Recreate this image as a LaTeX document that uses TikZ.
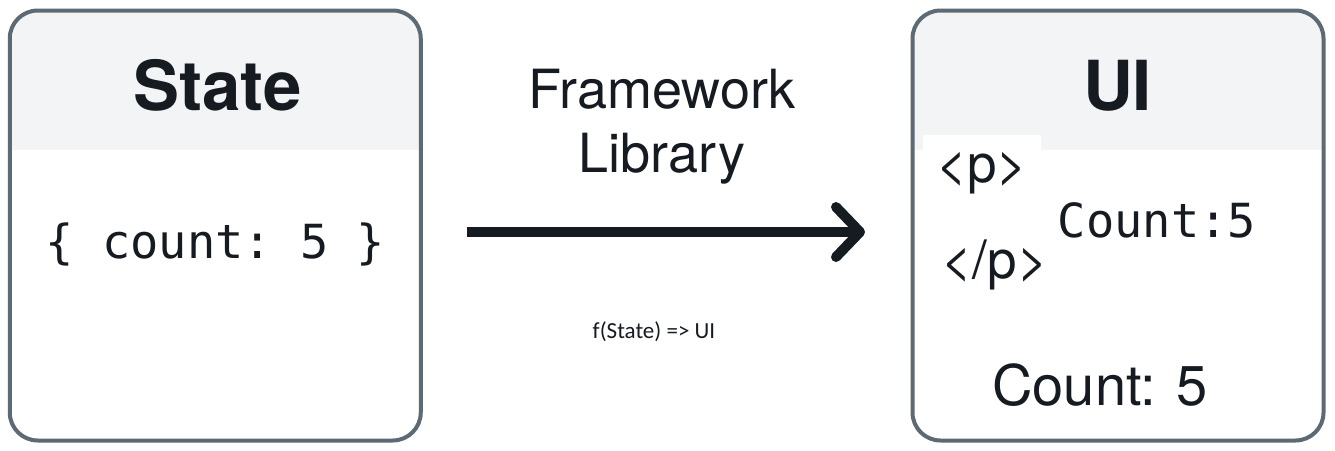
\documentclass[tikz,border=0pt]{standalone}
\usepackage{fontspec}
\setmainfont{TeX Gyre Heros}
\setmonofont{DejaVu Sans Mono}
\newfontfamily\notefont{Carlito}
\usetikzlibrary{arrows.meta}
\definecolor{ink}{HTML}{161B22}
\definecolor{rim}{HTML}{5E6A73}
\definecolor{headfill}{HTML}{F3F4F6}

\begin{document}
\begin{tikzpicture}[%
    x=1pt,y=-1pt,
    panel/.style={draw=rim,line width=4pt,rounded corners=28pt,
      minimum width=411pt,minimum height=430pt,
      path picture={\fill[headfill,sharp corners] (path picture bounding box.north west)
        rectangle ([yshift=-139.5pt]path picture bounding box.north east);}},
    title/.style={anchor=base,text=ink,font=\fontsize{69}{69}\selectfont\bfseries},
    code/.style={anchor=base,text=ink,font=\fontsize{47}{47}\selectfont\ttfamily},
    tag/.style={anchor=base,text=ink,font=\fontsize{53}{53}\selectfont},
    flow/.style={draw=ink,line width=10pt,-{Straight Barb[length=24pt,width=50pt,round]}}
  ]
    \useasboundingbox (0,0) rectangle (1335,450);

    \node[panel] (state) at (215.25,225.5) {};
    \node[panel] (ui)    at (1118,225.5)   {};

    \node[title] (statehead) at (217.5,110)  {State};
    \node[title] (uihead)    at (1117.5,110) {UI};

    \node[code] (stateval) at (215.5,258) {\{ count: 5 \}};

    \node[anchor=north,inner sep=0pt,align=center,text=ink,
          font=\fontsize{54}{64}\selectfont] (fwname) at (662,69) {Framework\\Library};
    \node[anchor=base,text=ink,font=\notefont\fontsize{23}{23}\selectfont]
          (rule) at (654,338) {f(State) => UI};

    \draw[flow,shorten <=44pt,shorten >=45.5pt]
          ([yshift=-6.5pt]state.east) -- ([yshift=-6.5pt]ui.west);

    \node[tag,fill=white,text height=47pt,inner ysep=0pt,inner xsep=13pt] (open) at (982,182) {<p>};
    \node[code] (uival) at (1157,237) {Count:5};
    \node[tag]  (close) at (995,278) {</p>};
    \node[anchor=base,text=ink,font=\fontsize{56}{56}\selectfont] (uiout) at (1100,405) {Count: 5};
\end{tikzpicture}
\end{document}
